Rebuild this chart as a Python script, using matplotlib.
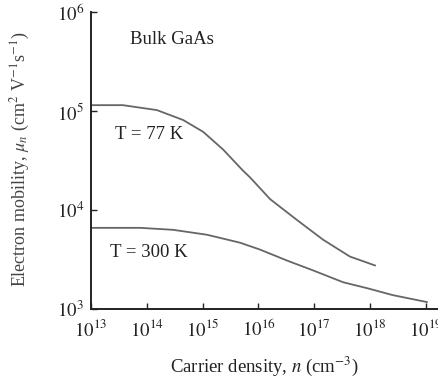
import numpy as np
import matplotlib
matplotlib.use("Agg")
import matplotlib.pyplot as plt

# Data (log10 values)
n77_log = [13.0, 13.57, 14.18, 14.65, 15.01, 15.37, 15.72, 15.85, 16.21, 16.69, 17.16, 17.64, 18.09]
mu77_log = [5.06, 5.06, 5.01, 4.91, 4.79, 4.61, 4.40, 4.33, 4.11, 3.90, 3.70, 3.53, 3.44]
n300_log = [13.0, 13.88, 14.47, 15.08, 15.67, 16.03, 16.51, 16.98, 17.52, 17.95, 18.41, 19.02]
mu300_log = [3.82, 3.82, 3.80, 3.75, 3.67, 3.60, 3.49, 3.39, 3.27, 3.21, 3.14, 3.07]
xticks = [13, 14, 15, 16, 17, 18, 19]
yticks = [3, 4, 5, 6]

plt.rcParams['font.family'] = ['Liberation Serif', 'DejaVu Serif']
plt.rcParams['mathtext.fontset'] = 'stix'

fig = plt.figure(figsize=(4.38, 3.87), dpi=100)
ax = fig.add_axes([0.208, 0.2016, 0.792, 0.767])

ax.plot(10.0 ** np.array(n77_log), 10.0 ** np.array(mu77_log), color='#666666', lw=1.3)
ax.plot(10.0 ** np.array(n300_log), 10.0 ** np.array(mu300_log), color='#666666', lw=1.3)

ax.set_xscale('log')
ax.set_yscale('log')
ax.set_xlim(1e13, 10 ** 19.22)
ax.set_ylim(1e3, 1e6)
ax.set_xticks([10.0 ** t for t in xticks])
ax.set_xticklabels([r'$10^{%d}$' % t for t in xticks])
ax.set_yticks([10.0 ** t for t in yticks])
ax.set_yticklabels([r'$10^{%d}$' % t for t in yticks])
ax.minorticks_off()
ax.tick_params(axis='both', direction='in', length=4, width=1, labelsize=13.5, colors='#222222')
ax.tick_params(axis='x', pad=7)
ax.tick_params(axis='y', pad=5)

for s in ['top', 'right']:
    ax.spines[s].set_visible(False)
for s in ['left', 'bottom']:
    ax.spines[s].set_linewidth(1.4)
    ax.spines[s].set_color('#222222')

ax.text(10 ** 13.70, 10 ** 5.72, 'Bulk GaAs', fontsize=13.5, color='#222222', va='center')
ax.text(10 ** 13.43, 10 ** 4.76, 'T = 77 K', fontsize=13.5, color='#222222', va='center')
ax.text(10 ** 13.34, 10 ** 3.57, 'T = 300 K', fontsize=13.5, color='#222222', va='center')

ax.set_xlabel(r'Carrier density, $n$ (cm$^{-3}$)', fontsize=13.5, color='#222222', labelpad=10)
ax.set_ylabel(r'Electron mobility, $\mu_n$ (cm$^2$ V$^{-1}$s$^{-1}$)', fontsize=13, color='#444444')
ax.yaxis.set_label_coords(-0.17, 0.505)

fig.savefig('out.png', dpi=100)
